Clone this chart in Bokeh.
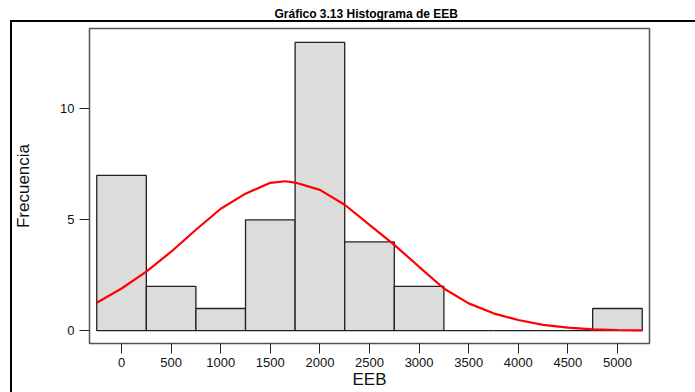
from bokeh.plotting import figure
from bokeh.models import Range1d, FixedTicker, Title, InlineStyleSheet
from bokeh.embed import file_html
from bokeh.resources import INLINE

# Histogram bins (EEB) and counts
bin_left = [-250, 250, 750, 1250, 1750, 2250, 2750, 3250, 3750, 4250, 4750]
bin_right = [250, 750, 1250, 1750, 2250, 2750, 3250, 3750, 4250, 4750, 5250]
counts = [7, 2, 1, 5, 13, 4, 2, 0, 0, 0, 1]

# Fitted normal curve
curve_x = [-250, 0, 250, 500, 750, 1000, 1250, 1500, 1650, 1750, 2000, 2250,
           2500, 2750, 3000, 3250, 3500, 3750, 4000, 4250, 4500, 4750, 5000, 5250]
curve_y = [1.26, 1.9, 2.66, 3.56, 4.55, 5.5, 6.18, 6.67, 6.74, 6.68, 6.35, 5.68,
           4.77, 3.87, 2.88, 1.9, 1.23, 0.78, 0.48, 0.26, 0.14, 0.06, 0.03, 0.01]

x_ticks = [0, 500, 1000, 1500, 2000, 2500, 3000, 3500, 4000, 4500, 5000]
y_ticks = [0, 5, 10]

title_text = "Gráfico 3.13 Histograma de EEB"
x_label = "EEB"
y_label = "Frecuencia"

FONT = "Liberation Sans"

box_css = InlineStyleSheet(css="""
:host::after {
  content: "";
  position: absolute;
  left: 10px;
  top: 20px;
  right: 0;
  bottom: 0;
  border-left: 2px solid black;
  border-top: 2px solid black;
  pointer-events: none;
}
""")

p = figure(width=695, height=392, output_backend="svg", toolbar_location=None,
           x_range=Range1d(-323, 5323), y_range=Range1d(-0.58, 13.63),
           min_border_left=89, min_border_right=46, min_border_top=27, min_border_bottom=49,
           stylesheets=[box_css])
p.background_fill_color = "white"
p.border_fill_color = "white"
p.outline_line_color = "#555555"
p.outline_line_width = 1.5
p.xgrid.visible = False
p.ygrid.visible = False

p.add_layout(Title(text=title_text, align="left", offset=185, standoff=12,
                   vertical_align="top",
                   text_font=FONT, text_font_size="12px", text_font_style="bold",
                   text_color="black"), "above")

p.quad(left=bin_left, right=bin_right, bottom=0, top=counts,
       fill_color="#DCDCDC", line_color="#222222", line_width=1.3)
p.line(curve_x, curve_y, line_color="#FF0000", line_width=2.2)

for ax in (p.xaxis[0], p.yaxis[0]):
    ax.axis_line_color = None
    ax.major_tick_line_color = "#222222"
    ax.major_tick_out = 10
    ax.major_tick_in = 0
    ax.minor_tick_line_color = None
    ax.major_label_text_font = FONT
    ax.major_label_text_font_size = "13px"
    ax.major_label_text_color = "#111111"
    ax.axis_label_text_font = FONT
    ax.axis_label_text_font_size = "17px"
    ax.axis_label_text_font_style = "normal"
    ax.axis_label_text_color = "#111111"

p.xaxis[0].ticker = FixedTicker(ticks=x_ticks)
p.yaxis[0].ticker = FixedTicker(ticks=y_ticks)
p.xaxis[0].major_label_standoff = 4
p.yaxis[0].major_label_standoff = 5

p.yaxis[0].axis_label = y_label
p.yaxis[0].axis_label_standoff = 24
p.xaxis[0].axis_label = x_label
p.xaxis[0].axis_label_standoff = 0

open("out.html", "w").write(file_html(p, INLINE))
